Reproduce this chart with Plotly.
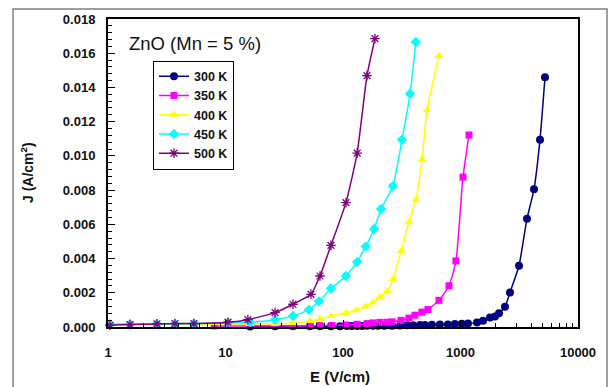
import plotly.graph_objects as go

# ---- data (E in V/cm, J in A/cm^2) ----
E_300 = [16.2, 26.4, 37.5, 52.4, 63.7, 79, 94.2, 108, 119, 132, 145, 160, 180, 199, 224, 262, 306,
         351, 395, 453, 499, 571, 668, 781, 896, 1025, 1158, 1382, 1554, 1783, 1966, 2127, 2392,
         2638, 3148, 3681, 4222, 4749, 5237]
J_300 = [0.00003, 0.00004, 0.00004, 0.00005, 0.00005, 0.00005, 0.00005, 0.00006, 0.00006, 0.00006,
         0.00006, 0.00007, 0.00007, 0.00007, 0.00008, 0.00008, 0.00009, 0.0001, 0.0001, 0.00011,
         0.00012, 0.00013, 0.00014, 0.00015, 0.00017, 0.00019, 0.0002, 0.00027, 0.00036, 0.00055,
         0.00062, 0.00081, 0.00118, 0.00202, 0.00358, 0.00633, 0.00805, 0.01095, 0.01459]

E_350 = [8.0, 37.5, 52.4, 63.7, 80.6, 106, 132, 160, 180, 206, 237, 261, 312, 364, 410, 470, 529,
         656, 798, 915, 1050, 1181]
J_350 = [0.00006, 0.00006, 0.00007, 0.00008, 0.00009, 0.00012, 0.00016, 0.0002, 0.00024, 0.00027,
         0.00028, 0.0003, 0.00039, 0.00052, 0.00069, 0.00087, 0.00102, 0.00156, 0.00241, 0.00386,
         0.00876, 0.01122]

E_400 = [1.04, 1.54, 2.61, 3.71, 5.39, 10.5, 16.2, 26.4, 37.5, 52.4, 63.7, 79, 106, 129, 156, 180,
         206, 237, 267, 312, 364, 418, 470, 519, 656]
J_400 = [0.00014, 0.00014, 0.00014, 0.00014, 0.00014, 0.00017, 0.00017, 0.00018, 0.00023, 0.00035,
         0.00047, 0.00064, 0.00082, 0.00098, 0.0012, 0.00143, 0.00176, 0.00208, 0.0028, 0.00442,
         0.00612, 0.00743, 0.00978, 0.01267, 0.01585]

E_450 = [1.04, 1.54, 2.61, 3.71, 5.39, 10.5, 16.2, 26.4, 37.5, 51.3, 62.5, 79, 106, 132, 156, 184,
         211, 266, 318, 372, 417]
J_450 = [0.00017, 0.00017, 0.00018, 0.00018, 0.00019, 0.00024, 0.00028, 0.00043, 0.00064, 0.00101,
         0.0015, 0.00225, 0.00298, 0.0038, 0.0047, 0.00573, 0.0069, 0.00824, 0.01095, 0.01363, 0.01666]

E_500 = [1.04, 1.54, 2.61, 3.71, 5.39, 10.5, 15.5, 26.4, 37.5, 53.4, 63.7, 79, 106, 132, 160, 187]
J_500 = [0.0001, 0.00014, 0.00018, 0.0002, 0.0002, 0.00028, 0.00043, 0.00084, 0.00133, 0.00191,
         0.00298, 0.00477, 0.00727, 0.01016, 0.01469, 0.01685]

series_names = ["300 K", "350 K", "400 K", "450 K", "500 K"]
x_ticks = [1, 10, 100, 1000, 10000]
x_tick_text = ["1", "10", "100", "1000", "10000"]

series = [
    (series_names[0], E_300, J_300, "#000080", "circle", 8),
    (series_names[1], E_350, J_350, "#FF00FF", "square", 7),
    (series_names[2], E_400, J_400, "#FFFF00", "triangle-up", 8),
    (series_names[3], E_450, J_450, "#00FFFF", "diamond", 8),
    (series_names[4], E_500, J_500, "#800080", "asterisk-open", 8),
]

FONT = "Arial, Liberation Sans, sans-serif"

fig = go.Figure()
for name, xs, ys, col, sym, sz in series:
    marker = dict(color=col, symbol=sym, size=sz)
    if sym == "asterisk-open":
        marker["line"] = dict(color=col, width=1.3)
    fig.add_trace(go.Scatter(
        x=xs, y=ys, name=name, mode="lines+markers",
        line=dict(color=col, width=1.5, shape="spline", smoothing=0.5),
        marker=marker, cliponaxis=False,
    ))

tickfont = dict(family=FONT, size=13, color="#111111", weight="bold")

fig.update_layout(
    width=610, height=387,
    margin=dict(l=108, r=32, t=16, b=60),
    paper_bgcolor="white", plot_bgcolor="white",
    font=dict(family=FONT),
    showlegend=True,
    legend=dict(
        x=0.0957, y=0.865, xanchor="left", yanchor="top",
        bgcolor="white", bordercolor="black", borderwidth=1,
        font=dict(family=FONT, size=12.5, color="#111111", weight="bold"),
        tracegroupgap=0, itemwidth=30,
    ),
    xaxis=dict(
        type="log", range=[0, 4],
        tickvals=x_ticks, ticktext=x_tick_text,
        ticks="inside", ticklen=7, tickwidth=1, tickcolor="black",
        minor=dict(ticks="inside", ticklen=4, tickcolor="black", dtick="D1"),
        showline=True, linecolor="black", linewidth=2, mirror=True,
        showgrid=False, zeroline=False,
        tickfont=tickfont, ticklabelstandoff=12,
    ),
    yaxis=dict(
        range=[0, 0.018], dtick=0.002, tickformat=".3f",
        ticks="inside", ticklen=7, tickwidth=1, tickcolor="black",
        minor=dict(ticks="inside", ticklen=4, tickcolor="black", dtick=0.0004),
        showline=True, linecolor="black", linewidth=2, mirror=True,
        showgrid=False, zeroline=False,
        tickfont=tickfont, ticklabelstandoff=8,
    ),
    annotations=[
        dict(text="ZnO (Mn = 5 %)", x=0.185, y=0.92, xref="paper", yref="paper",
             xanchor="center", yanchor="middle",
             showarrow=False, font=dict(size=18.5, color="#111111", family=FONT)),
        dict(text="J (A/cm<sup>2</sup>)", x=-0.1723, y=0.5, xref="paper", yref="paper",
             xanchor="center", yanchor="middle",
             showarrow=False, textangle=-90,
             font=dict(size=14, color="#111111", weight="bold", family=FONT)),
        dict(text="E (V/cm)", x=0.494, y=-0.161, xref="paper", yref="paper",
             xanchor="center", yanchor="middle",
             showarrow=False,
             font=dict(size=15, color="#111111", weight="bold", family=FONT)),
    ],
    shapes=[
        dict(type="rect", xref="paper", yref="paper", x0=-0.2021, x1=1.0617,
             y0=-0.25, y1=1.0322, line=dict(color="#808080", width=1.5),
             fillcolor="rgba(0,0,0,0)", layer="below"),
    ],
)

fig.write_html("out.html")
